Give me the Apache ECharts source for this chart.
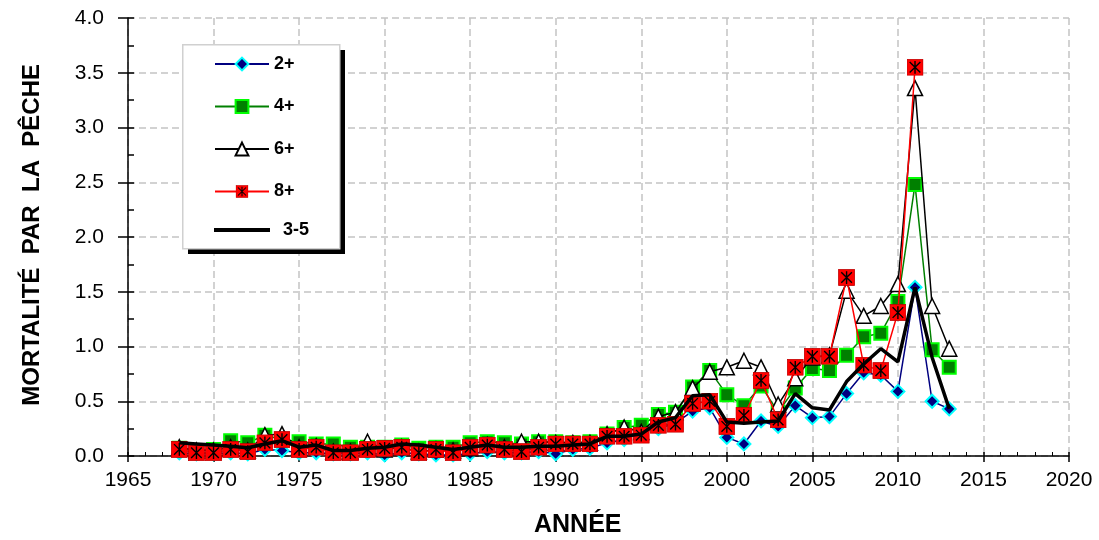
<!DOCTYPE html>
<html>
<head>
<meta charset="utf-8">
<script src="https://cdn.jsdelivr.net/npm/echarts@6/dist/echarts.min.js"></script>
<style>
html,body{margin:0;padding:0;background:#fff;}
#chart{width:1099px;height:540px;}
</style>
</head>
<body>
<div id="chart"></div>
<script>
// ---- data ----
var years = [1968,1969,1970,1971,1972,1973,1974,1975,1976,1977,1978,1979,1980,1981,1982,1983,1984,1985,1986,1987,1988,1989,1990,1991,1992,1993,1994,1995,1996,1997,1998,1999,2000,2001,2002,2003,2004,2005,2006,2007,2008,2009,2010,2011,2012,2013];
var f2plus = [0.03,0.02,0.02,0.03,0.02,0.06,0.05,0.03,0.03,0.02,0.02,0.03,0.01,0.03,0.02,0.01,0.01,0.02,0.04,0.03,0.03,0.04,0.02,0.06,0.07,0.12,0.15,0.25,0.25,0.30,0.41,0.44,0.17,0.11,0.32,0.27,0.46,0.35,0.36,0.57,0.76,0.74,0.59,1.54,0.50,0.43];
var f4plus = [0.07,0.05,0.06,0.14,0.12,0.19,0.15,0.13,0.11,0.11,0.08,0.08,0.08,0.10,0.07,0.08,0.08,0.12,0.13,0.12,0.11,0.13,0.13,0.12,0.13,0.20,0.26,0.28,0.38,0.40,0.63,0.78,0.56,0.46,0.64,0.40,0.62,0.80,0.78,0.92,1.09,1.12,1.41,2.48,0.97,0.81];
var f6plus = [0.08,0.05,0.05,0.08,0.05,0.19,0.20,0.08,0.09,0.04,0.04,0.13,0.06,0.08,0.04,0.06,0.05,0.07,0.10,0.08,0.13,0.13,0.12,0.12,0.12,0.20,0.26,0.22,0.36,0.40,0.62,0.77,0.81,0.87,0.81,0.47,0.71,0.90,0.92,1.51,1.28,1.37,1.57,3.36,1.37,0.98];
var f8plus = [0.06,0.03,0.03,0.06,0.04,0.12,0.15,0.06,0.08,0.03,0.03,0.06,0.07,0.08,0.03,0.06,0.03,0.08,0.10,0.06,0.04,0.08,0.11,0.11,0.11,0.18,0.18,0.19,0.28,0.29,0.48,0.50,0.27,0.37,0.69,0.33,0.81,0.91,0.91,1.63,0.83,0.78,1.31,3.55,null,null];
var f35 = [0.12,0.11,0.10,0.09,0.075,0.11,0.14,0.08,0.10,0.05,0.05,0.07,0.08,0.11,0.10,0.08,0.06,0.08,0.10,0.08,0.08,0.09,0.09,0.10,0.11,0.18,0.18,0.20,0.31,0.35,0.55,0.56,0.31,0.30,0.31,0.32,0.57,0.44,0.42,0.68,0.84,0.98,0.86,1.54,0.90,0.43];
var seriesNames = ['2+','4+','6+','8+','3-5'];
var xTitle = 'ANNÉE';
var yTitle = 'MORTALITÉ  PAR  LA  PÊCHE';

function pairs(arr){
  var out = [];
  for (var i = 0; i < years.length; i++) {
    if (arr[i] !== null) out.push([years[i], arr[i]]);
  }
  return out;
}

var FONT = '"Liberation Sans",Arial,sans-serif';

var starSvg = '<svg xmlns="http://www.w3.org/2000/svg" width="32" height="32" viewBox="0 0 32 32">' +
  '<rect x="1" y="1" width="30" height="30" fill="#ff0000" stroke="#c00000" stroke-width="1.5"/>' +
  '<path d="M6 6 L26 26 M26 6 L6 26 M16 4 L16 28" stroke="#000" stroke-width="2.6" fill="none"/>' +
  '</svg>';
var starSymbol = 'image://data:image/svg+xml;charset=utf-8,' + encodeURIComponent(starSvg);

var chart = echarts.init(document.getElementById('chart'), null, {renderer: 'canvas'});

var gridLine = {show: true, lineStyle: {color: '#c4c4c4', width: 1.5, type: [7, 4]}};

var legendText = {fontFamily: FONT, fontSize: 18, fontWeight: 'bold', color: '#000'};

var option = {
  animation: false,
  backgroundColor: '#ffffff',
  grid: {left: 128, right: 30, top: 18, bottom: 84, containLabel: false},
  xAxis: [
    {
      type: 'value', min: 1965, max: 2020, interval: 5, position: 'bottom',
      axisLine: {show: true, onZero: false, lineStyle: {color: '#000', width: 1.5}},
      axisTick: {show: true, inside: false, length: 6, lineStyle: {color: '#000', width: 1.5}},
      axisLabel: {show: true, margin: 14, color: '#000', fontSize: 21, fontFamily: FONT,
        formatter: function(v){ return String(v); }},
      splitLine: gridLine
    },
    {
      type: 'value', min: 1965, max: 2020, interval: 5, position: 'bottom',
      axisLine: {show: false, onZero: false},
      axisTick: {show: true, inside: true, length: 4, lineStyle: {color: '#000', width: 1.5}},
      minorTick: {show: true, splitNumber: 5, length: 4, lineStyle: {color: '#000', width: 1}},
      axisLabel: {show: false},
      splitLine: {show: false}
    }
  ],
  yAxis: [
    {
      type: 'value', min: 0, max: 4, interval: 0.5, position: 'left',
      axisLine: {show: true, onZero: false, lineStyle: {color: '#000', width: 1.5}},
      axisTick: {show: true, inside: false, length: 10, lineStyle: {color: '#000', width: 1.5}},
      axisLabel: {show: true, margin: 24, color: '#000', fontSize: 21, fontFamily: FONT,
        formatter: function(v){ return v.toFixed(1); }},
      splitLine: gridLine
    },
    {
      type: 'value', min: 0, max: 4, interval: 0.5, position: 'left',
      axisLine: {show: false, onZero: false},
      axisTick: {show: true, inside: true, length: 6, lineStyle: {color: '#000', width: 1.5}},
      minorTick: {show: true, splitNumber: 2, length: 6, lineStyle: {color: '#000', width: 1.5}},
      axisLabel: {show: false},
      splitLine: {show: false}
    }
  ],
  legend: [
    {
      orient: 'vertical', left: 209, top: 50, itemWidth: 54, itemHeight: 16, itemGap: 24.5,
      selectedMode: false, z: 10,
      textStyle: legendText,
      data: [seriesNames[0], seriesNames[1], seriesNames[2], seriesNames[3]]
    },
    {
      orient: 'vertical', left: 209, top: 216, itemWidth: 56, itemHeight: 4,
      selectedMode: false, z: 10, icon: 'rect',
      textStyle: {fontFamily: FONT, fontSize: 18, fontWeight: 'bold', color: '#000', padding: [0, 0, 0, 8]},
      data: [seriesNames[4]]
    }
  ],
  graphic: [
    {type: 'rect', left: 188, top: 50, z: 5, silent: true,
      shape: {width: 157, height: 204},
      style: {fill: '#000'}},
    {type: 'rect', left: 182, top: 44, z: 6, silent: true,
      shape: {width: 157, height: 204},
      style: {fill: '#fff', stroke: '#d0d0d0', lineWidth: 1.5}},
    {type: 'text', left: 534, top: 513, z: 5, silent: true,
      style: {text: xTitle, fontFamily: FONT, fontSize: 25, fontWeight: 'bold', fill: '#000'}},
    {type: 'text', left: 20, top: 64, z: 5, rotation: Math.PI/2, silent: true,
      style: {text: yTitle, fontFamily: FONT, fontSize: 24, fontWeight: 'bold', fill: '#000'}}
  ],
  series: [
    {
      name: seriesNames[0], type: 'line', data: pairs(f2plus), z: 2,
      symbol: 'diamond', symbolSize: 13, showAllSymbol: true,
      lineStyle: {color: '#000080', width: 1.5},
      itemStyle: {color: '#000080', borderColor: '#00ffff', borderWidth: 2}
    },
    {
      name: seriesNames[1], type: 'line', data: pairs(f4plus), z: 3,
      symbol: 'rect', symbolSize: 13, showAllSymbol: true,
      lineStyle: {color: '#008000', width: 1.5},
      itemStyle: {color: '#008000', borderColor: '#00ff00', borderWidth: 2}
    },
    {
      name: seriesNames[2], type: 'line', data: pairs(f6plus), z: 4,
      symbol: 'triangle', symbolSize: 15, showAllSymbol: true,
      lineStyle: {color: '#000', width: 1.5},
      itemStyle: {color: '#fff', borderColor: '#000', borderWidth: 1.5}
    },
    {
      name: seriesNames[3], type: 'line', data: pairs(f8plus), z: 5,
      symbol: starSymbol, symbolSize: 17, showAllSymbol: true,
      lineStyle: {color: '#ff0000', width: 1.5},
      itemStyle: {color: '#ff0000'}
    },
    {
      name: seriesNames[4], type: 'line', data: pairs(f35), z: 6,
      symbol: 'none', showSymbol: false,
      lineStyle: {color: '#000', width: 3.5},
      itemStyle: {color: '#000'}
    }
  ]
};
chart.setOption(option);
</script>
</body>
</html>
